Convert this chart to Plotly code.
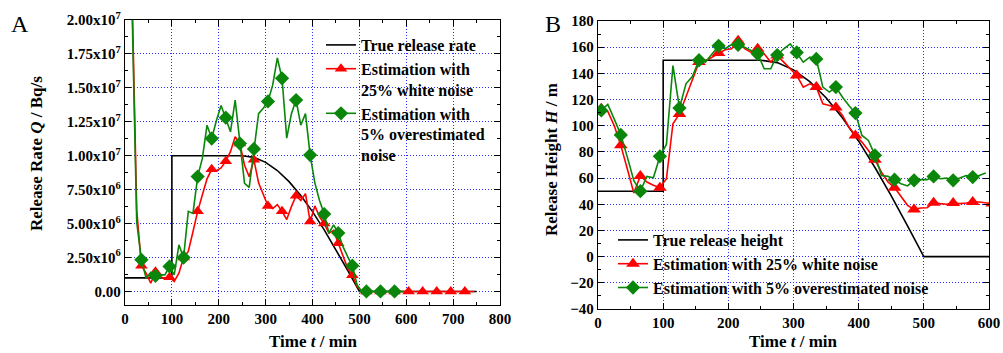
import plotly.graph_objects as go

FONT = "Liberation Serif"

# ---------------- Panel A data (release rate, in units of 1e6 Bq/s) ----------------
t_true_A = [0, 100, 100, 250, 275, 300, 325, 350, 375, 400, 425, 450, 475, 500, 750]
q_true_A = [1.0, 1.0, 10.0, 10.0, 9.88, 9.51, 8.91, 8.09, 7.07, 5.88, 4.54, 3.09, 1.56, 0.0, 0.0]

t_red_A = list(range(5, 755, 10))
q_red_A = [45, 22, 6.0, 1.9, 1.35, 0.6, 1.45, 1.05, 0.98, 1.05,
           0.74, 1.35, 2.5, 2.95, 4.4, 5.9, 7.1, 8.3, 9.0, 8.9,
           9.1, 9.6, 10.3, 11.4, 10.9, 9.3, 8.45, 9.7, 8.0, 7.2,
           6.3, 6.1, 6.4, 5.9, 5.3, 6.25, 7.05, 6.7, 7.2, 5.15,
           6.3, 5.5, 5.0, 4.3, 4.5, 3.55, 2.6, 1.7, 1.2, 0.37,
           0, 0, 0, 0, 0, 0, 0, 0, 0, 0,
           0, 0, 0, 0, 0, 0, 0, 0, 0, 0,
           0, 0, 0, 0, 0]

t_green_A = list(range(5, 605, 10))
q_green_A = [45, 21, 5.1, 2.33, 0.98, 1.4, 1.15, 1.22, 1.22, 1.84,
             1.22, 3.43, 2.5, 5.9, 5.75, 8.46, 9.8, 12.25, 11.27, 12.6,
             13.7, 12.8, 11.76, 14.1, 10.9, 7.97, 7.67, 10.5, 13.1, 13.5,
             14.0, 15.2, 17.2, 15.7, 11.3, 13.1, 14.1, 12.25, 13.1, 10.05,
             8.0, 6.7, 5.7, 4.3, 4.9, 4.3, 3.3, 2.57, 1.9, 0.5,
             0, 0, 0, 0, 0, 0, 0, 0, 0, 0]

# ---------------- Panel B data (release height, m) ----------------
t_true_B = [0, 100, 100, 250, 275, 300, 325, 350, 375, 400, 425, 450, 475, 500, 600]
h_true_B = [50, 50, 150, 150, 148.2, 142.7, 133.7, 121.4, 106.1, 88.2, 68.1, 46.4, 23.5, 0, 0]

t_red_B = list(range(5, 615, 10))
h_red_B = [113, 111, 100, 85, 67, 48.6, 61.6, 57, 54.5, 52.7,
           59.5, 101.5, 109, 122, 134.6, 148.6, 149.4, 152.4, 155.5, 158,
           158.8, 165, 158.8, 156, 158.8, 155, 148.6, 153.7, 148.6, 143.5,
           138.4, 129.5, 132, 129.5, 116.8, 115.5, 114, 108, 99, 92.6,
           87.5, 81, 74, 64.6, 57, 52.7, 45.5, 39.2, 36.1, 37.2,
           37.4, 41.2, 40.5, 40, 41, 40.5, 41, 41.7, 41.7, 41.2,
           40.5]

t_green_B = list(range(5, 605, 10))
h_green_B = [111.7, 116.3, 105, 93, 76, 58, 50, 61.3, 60.3, 76.6,
             85.7, 146, 113.5, 132, 137.7, 150, 148.6, 155, 161, 158.8,
             162, 161.8, 160, 157.5, 155, 143.5, 143.5, 154, 158.8, 162.6,
             156, 148.6, 152.4, 151, 129.5, 125.7, 129.5, 121.9, 115.5, 109.7,
             92.6, 88.8, 77.4, 62, 61.3, 58.8, 55.7, 54, 58.3, 58.8,
             58.8, 61.3, 59.5, 60, 58.3, 60, 62, 60.8, 62, 63.9]

q_ticks = [0, 2.5e6, 5e6, 7.5e6, 1e7, 1.25e7, 1.5e7, 1.75e7, 2e7]
q_ticktext = ["0.00", "2.50x10<sup>6</sup>", "5.00x10<sup>6</sup>", "7.50x10<sup>6</sup>",
              "1.00x10<sup>7</sup>", "1.25x10<sup>7</sup>", "1.50x10<sup>7</sup>",
              "1.75x10<sup>7</sup>", "2.00x10<sup>7</sup>"]

legendA = ["True release rate", "Estimation with<br>25% white noise",
           "Estimation with<br>5% overestimated<br>noise"]
legendB = ["True release height", "Estimation with 25% white noise",
           "Estimation with 5% overestimated noise"]

RED = "#FF0000"
GREEN = "#0A870A"
BLACK = "#000000"

fig = go.Figure()


def add_series(x, y, color, symbol, msize, name, xa, ya, leg, marker_end, lw=1.6):
    # line through every sample
    fig.add_trace(go.Scatter(x=x, y=y, mode="lines", line=dict(color=color, width=lw),
                             xaxis=xa, yaxis=ya, showlegend=False, hoverinfo="skip"))
    # markers on every third sample
    mx = x[0:marker_end:3]
    my = y[0:marker_end:3]
    fig.add_trace(go.Scatter(x=mx, y=my, mode="markers",
                             marker=dict(color=color, symbol=symbol, size=msize, line=dict(width=0)),
                             xaxis=xa, yaxis=ya, showlegend=False, hoverinfo="skip"))
    # legend entry
    fig.add_trace(go.Scatter(x=[None], y=[None], mode="lines+markers", name=name,
                             line=dict(color=color, width=lw),
                             marker=dict(color=color, symbol=symbol, size=msize),
                             xaxis=xa, yaxis=ya, legend=leg))


# Panel A
fig.add_trace(go.Scatter(x=t_true_A, y=[v * 1e6 for v in q_true_A], mode="lines",
                         line=dict(color=BLACK, width=1.6), name=legendA[0],
                         xaxis="x", yaxis="y", legend="legend"))
add_series(t_red_A, [v * 1e6 for v in q_red_A], RED, "triangle-up", 11, legendA[1], "x", "y", "legend", 73)
add_series(t_green_A, [v * 1e6 for v in q_green_A], GREEN, "diamond", 11, legendA[2], "x", "y", "legend", 58)

# Panel B
fig.add_trace(go.Scatter(x=t_true_B, y=h_true_B, mode="lines",
                         line=dict(color=BLACK, width=1.6), name=legendB[0],
                         xaxis="x2", yaxis="y2", legend="legend2"))
add_series(t_red_B, h_red_B, RED, "triangle-up", 12, legendB[1], "x2", "y2", "legend2", 61)
add_series(t_green_B, h_green_B, GREEN, "diamond", 11, legendB[2], "x2", "y2", "legend2", 58)

W, H = 1003, 353


def px_x(p):
    return p / W


def px_y(p):
    return 1 - p / H


tickfont = dict(family=FONT, size=15, color="black", weight="bold")
common = dict(showline=True, linecolor="black", linewidth=1.3, mirror="allticks",
              ticks="inside", ticklen=6, tickwidth=1, tickcolor="black",
              showgrid=True, gridcolor="#2A2AFF", griddash="1px,2px", gridwidth=1,
              zeroline=False, tickfont=tickfont, automargin=False,
              minor=dict(ticks="inside", ticklen=3, tickwidth=1, tickcolor="black", showgrid=False))

fig.update_layout(
    width=W, height=H, margin=dict(l=0, r=0, t=0, b=0, autoexpand=False),
    paper_bgcolor="white", plot_bgcolor="white",
    font=dict(family=FONT, size=15, color="black"),
    xaxis=dict(domain=[px_x(125), px_x(500)], range=[0, 800], dtick=100, anchor="y",
               **{**common, "minor": dict(common["minor"], dtick=50)}),
    yaxis=dict(domain=[px_y(305), px_y(20)], range=[-1e6, 2e7], tickvals=q_ticks,
               ticktext=q_ticktext, anchor="x",
               **{**common, "minor": dict(common["minor"], dtick=1.25e6)}),
    xaxis2=dict(domain=[px_x(598), px_x(989)], range=[0, 600], dtick=100, anchor="y2",
                **{**common, "minor": dict(common["minor"], dtick=50)}),
    yaxis2=dict(domain=[px_y(309), px_y(21)], range=[-40, 180], dtick=20, anchor="x2",
                **{**common, "minor": dict(common["minor"], dtick=10)}),
    legend=dict(x=px_x(321), y=px_y(28), xanchor="left", yanchor="top",
                bgcolor="rgba(0,0,0,0)", borderwidth=0, valign="top",
                font=dict(family=FONT, size=16, color="black", weight="bold"),
                tracegroupgap=0, itemwidth=30),
    legend2=dict(x=px_x(613), y=px_y(223), xanchor="left", yanchor="top",
                 bgcolor="rgba(0,0,0,0)", borderwidth=0, valign="top",
                 font=dict(family=FONT, size=16, color="black", weight="bold"),
                 tracegroupgap=0, itemwidth=30),
    showlegend=True,
)

annos = [
    dict(text="A", x=px_x(9), y=px_y(9), xanchor="left", yanchor="top",
         font=dict(family=FONT, size=24, color="black")),
    dict(text="B", x=px_x(543), y=px_y(9), xanchor="left", yanchor="top",
         font=dict(family=FONT, size=24, color="black")),
    dict(text="Release Rate <i>Q</i> / Bq/s", x=px_x(37), y=px_y(154), textangle=-90,
         xanchor="center", yanchor="middle",
         font=dict(family=FONT, size=17, color="black", weight="bold")),
    dict(text="Release Height <i>H</i> / m", x=px_x(551), y=px_y(160), textangle=-90,
         xanchor="center", yanchor="middle",
         font=dict(family=FONT, size=17, color="black", weight="bold")),
    dict(text="Time <i>t</i> / min", x=px_x(313), y=px_y(341), xanchor="center", yanchor="middle",
         font=dict(family=FONT, size=17, color="black", weight="bold")),
    dict(text="Time <i>t</i> / min", x=px_x(793), y=px_y(341), xanchor="center", yanchor="middle",
         font=dict(family=FONT, size=17, color="black", weight="bold")),
]
for a in annos:
    fig.add_annotation(xref="paper", yref="paper", showarrow=False, **a)

fig.write_html("out.html", config={"displayModeBar": False},
               post_script="document.body.style.margin='0px';document.body.style.padding='0px';")
